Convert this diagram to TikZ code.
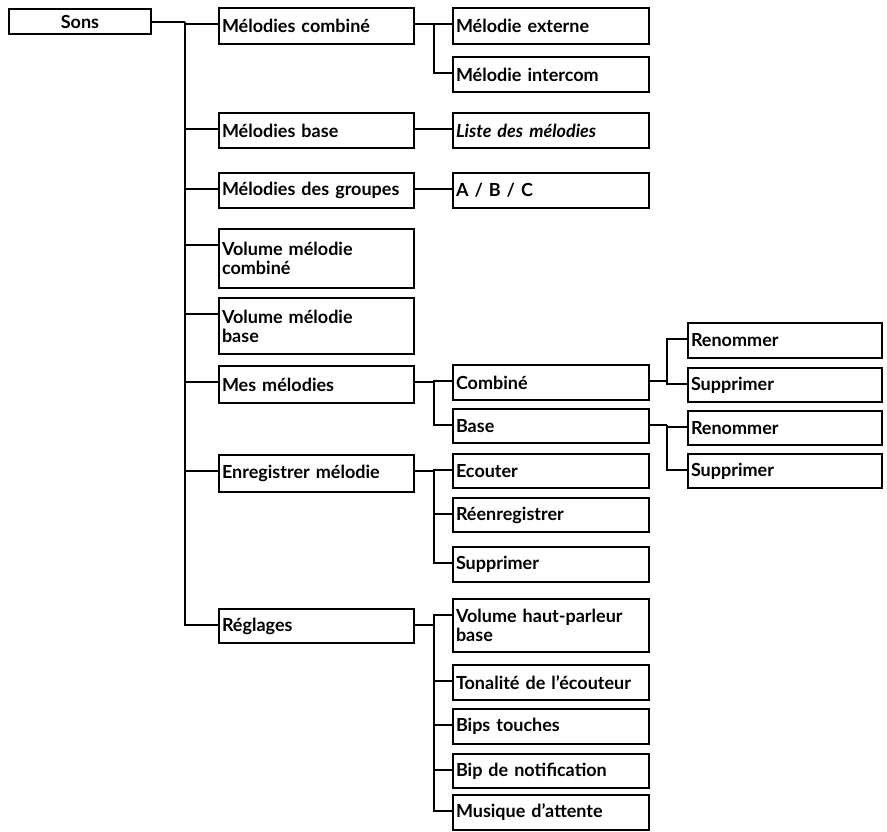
\documentclass[tikz,border=0pt]{standalone}
\usepackage{fontspec}
\setmainfont{Lato}
\usetikzlibrary{positioning, calc}

\begin{document}
\begin{tikzpicture} [x = 1pt, y = -1pt,
          box/.style = {draw, line width = 2pt, rectangle, anchor = north west,
              inner xsep = 3pt, inner ysep = 1pt, align = left,
              font = \fontsize{18}{19}\selectfont\bfseries},
          colb/.style = {box, minimum width = 195pt, text width = 189pt},
          colc/.style = {box, minimum width = 196pt, text width = 190pt},
          cold/.style = {box, minimum width = 194pt, text width = 188pt},
          link/.style = {line width = 2pt}
          ]
          \useasboundingbox (0,0) rectangle (887,832);

          \node (sons) [box, minimum width = 142pt, minimum height = 25pt, align = center, text width = 136pt] at (8,8) {Sons};

          \node (mc) [colb, minimum height = 36pt] at (218,7) {Mélodies combiné};
          \node (mb) [colb, minimum height = 35pt] at (218,112) {Mélodies base};
          \node (mg) [colb, minimum height = 35pt] at (218,172) {Mélodies des groupes};
          \node (vc) [colb, minimum height = 59pt] at (218,228) {Volume mélodie\\combiné};
          \node (vb) [colb, minimum height = 56pt] at (218,297) {Volume mélodie\\base};
          \node (mm) [colb, minimum height = 37pt] at (218,365) {Mes mélodies};
          \node (em) [colb, minimum height = 37pt] at (218,454) {Enregistrer mélodie};
          \node (rg) [colb, minimum height = 34pt] at (218,608) {Réglages};

          \node (ext) [colc, minimum height = 36pt] at (452,7) {Mélodie externe};
          \node (int) [colc, minimum height = 35pt] at (452,56) {Mélodie intercom};
          \node (liste) [colc, minimum height = 35pt] at (452,112) {\itshape Liste des mélodies};
          \node (abc) [colc, minimum height = 35pt] at (452,172) {A / B / C};
          \node (comb) [colc, minimum height = 35pt] at (452,364) {Combiné};
          \node (base) [colc, minimum height = 34pt] at (452,408) {Base};
          \node (ecout) [colc, minimum height = 34pt] at (452,453) {Ecouter};
          \node (reen) [colc, minimum height = 34pt] at (452,497) {Réenregistrer};
          \node (supp) [colc, minimum height = 35pt] at (452,546) {Supprimer};
          \node (vhp) [colc, minimum height = 53pt] at (452,598) {Volume haut-parleur\\base};
          \node (ton) [colc, minimum height = 35pt] at (452,664) {Tonalité de l’écouteur};
          \node (bips) [colc, minimum height = 35pt] at (452,708) {Bips touches};
          \node (bipn) [colc, minimum height = 34pt] at (452,753) {Bip de notification};
          \node (mus) [colc, minimum height = 35pt] at (452,794) {Musique d’attente};

          \node (ren1) [cold, minimum height = 35pt] at (687,322) {Renommer};
          \node (sup1) [cold, minimum height = 34pt] at (687,367) {Supprimer};
          \node (ren2) [cold, minimum height = 34pt] at (687,410) {Renommer};
          \node (sup2) [cold, minimum height = 34pt] at (687,453) {Supprimer};

          % Ports
          \coordinate (sons-o) at ($(sons.north east)+(0,14)$);
          \foreach \n in {mc,mb,mg,vc,vb,mm,em,rg,ext,int,liste,abc,comb,base,
              ecout,reen,supp,vhp,ton,bips,bipn,mus,ren1,sup1,ren2,sup2} {
            \coordinate (\n-i) at ($(\n.north west)+(0,17)$);
            \coordinate (\n-o) at ($(\n.north east)+(0,17)$);
          }

          % Links
          \coordinate (t1) at (185,0);
          \coordinate (t2) at (434,0);
          \coordinate (t3) at (667,0);
          \draw[link] (sons-o) -- (sons-o -| t1);
          \foreach \c in {mc,mb,mg,vc,vb,mm,em,rg}
            \draw[link] (sons-o -| t1) |- (\c-i);
          \draw[link] (mc-o) -- (mc-o -| t2);
          \foreach \c in {ext,int}
            \draw[link] (mc-o -| t2) |- (\c-i);
          \draw[link] (mb-o) -- (liste-i);
          \draw[link] (mg-o) -- (abc-i);
          \draw[link] (mm-o) -- (mm-o -| t2);
          \foreach \c in {comb,base}
            \draw[link] (mm-o -| t2) |- (\c-i);
          \draw[link] (em-o) -- (em-o -| t2);
          \foreach \c in {ecout,reen,supp}
            \draw[link] (em-o -| t2) |- (\c-i);
          \draw[link] (rg-o) -- (rg-o -| t2);
          \foreach \c in {vhp,ton,bips,bipn,mus}
            \draw[link] (rg-o -| t2) |- (\c-i);
          \draw[link] (comb-o) -- (comb-o -| t3);
          \foreach \c in {ren1,sup1}
            \draw[link] (comb-o -| t3) |- (\c-i);
          \draw[link] (base-o) -- (base-o -| t3);
          \foreach \c in {ren2,sup2}
            \draw[link] (base-o -| t3) |- (\c-i);

        \end{tikzpicture}
\end{document}
